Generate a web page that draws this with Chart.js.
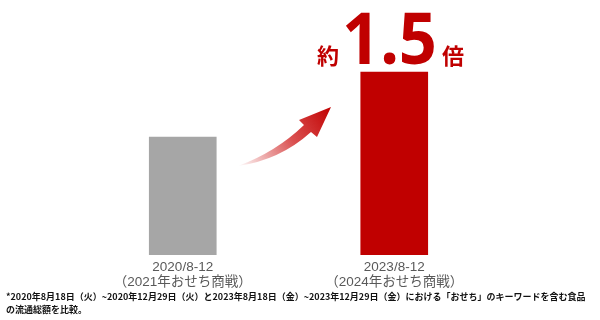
<!DOCTYPE html>
<html>
<head>
<meta charset="utf-8">
<script src="https://cdn.jsdelivr.net/npm/chart.js@4"></script>
<style>
  html, body { margin: 0; padding: 0; background: #fff; }
  #wrap { width: 600px; height: 320px; position: relative; }
</style>
</head>
<body>
<div id="wrap"><canvas id="myChart" width="600" height="320"></canvas></div>
<script>
const periods = [
  ['2020/8-12', '（2021年おせち商戦）'],
  ['2023/8-12', '（2024年おせち商戦）']
];
const sales = [100, 155];
const barColors = ['#a6a6a6', '#c00000'];
const noteLines = [
  '*2020年8月18日（火）~2020年12月29日（火）と2023年8月18日（金）~2023年12月29日（金）における「おせち」のキーワードを含む食品',
  'の流通総額を比較。'
];
const badge = ['約', '1.5', '倍'];

const jp = '"Liberation Sans", Arial, "Noto Sans CJK JP", sans-serif';

// arrow, big "約1.5倍" and the footnote
const decor = {
  id: 'decor',
  afterDraw(chart) {
    const c = chart.ctx;
    c.save();

    // arrow
    const g = c.createLinearGradient(238, 166, 331, 107);
    g.addColorStop(0, 'rgba(200,0,0,0)');
    g.addColorStop(0.55, 'rgba(205,20,20,0.75)');
    g.addColorStop(1, '#c00000');
    c.fillStyle = g;
    c.beginPath();
    c.moveTo(238, 166);
    c.quadraticCurveTo(276, 152, 304, 125);
    c.lineTo(299, 120);
    c.lineTo(331, 107);
    c.lineTo(317, 137);
    c.lineTo(311, 132);
    c.quadraticCurveTo(280, 160, 238, 166);
    c.closePath();
    c.fill();

    // badge
    c.fillStyle = '#c00000';
    c.textBaseline = 'alphabetic';
    c.font = 'bold 22px "Noto Sans CJK JP", sans-serif';
    c.fillText(badge[0], 317, 64);
    c.fillText(badge[2], 442, 64);
    c.font = 'bold 72px "Noto Sans", sans-serif';
    const w = c.measureText(badge[1]).width;
    c.save();
    c.translate(342, 64);
    c.scale(95 / w, 1);
    c.fillText(badge[1], 0, 0);
    c.restore();

    // footnote
    c.fillStyle = '#111';
    c.font = 'bold 9px "Noto Sans CJK JP", sans-serif';
    c.textBaseline = 'middle';
    c.fillText(noteLines[0], 6, 297);
    c.fillText(noteLines[1], 6, 310);
    c.restore();
  }
};

const ctx = document.getElementById('myChart').getContext('2d');
const chart = new Chart(ctx, {
  type: 'bar',
  data: {
    labels: periods,
    datasets: [{
      data: sales,
      backgroundColor: barColors,
      borderWidth: 0,
      barThickness: 67
    }]
  },
  options: {
    responsive: false,
    animation: false,
    devicePixelRatio: 1,
    layout: { padding: { top: 19, left: 77, right: 100, bottom: 0 } },
    plugins: {
      legend: { display: false },
      tooltip: { enabled: false }
    },
    scales: {
      y: {
        display: false,
        min: 0,
        max: 200
      },
      x: {
        grid: { display: false, drawTicks: false },
        border: { display: false },
        ticks: {
          color: '#595959',
          padding: 5,
          maxRotation: 0,
          autoSkip: false,
          font: { family: jp, size: 13.5, lineHeight: 1.1 }
        },
        afterFit(scale) { scale.height = 65; }
      }
    }
  },
  plugins: [decor]
});
</script>
</body>
</html>
